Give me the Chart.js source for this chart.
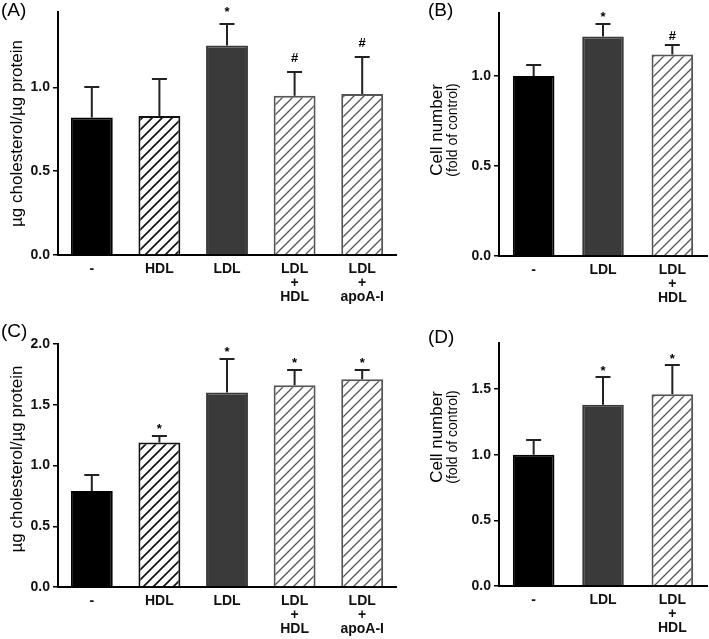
<!DOCTYPE html>
<html>
<head>
<meta charset="utf-8">
<script src="https://cdn.jsdelivr.net/npm/chart.js@4/dist/chart.umd.min.js"></script>
<style>
  body { margin: 0; background: #fff; }
  #wrap { position: relative; width: 709px; height: 639px; overflow: hidden; }
  canvas { position: absolute; }
</style>
</head>
<body>
<div id="wrap">
  <canvas id="cA" width="400" height="318" style="left:0;top:0"></canvas>
  <canvas id="cB" width="289" height="318" style="left:420px;top:0"></canvas>
  <canvas id="cC" width="400" height="319" style="left:0;top:320px"></canvas>
  <canvas id="cD" width="289" height="319" style="left:420px;top:320px"></canvas>
</div>
<script>
// categorias
const catsCholesterol = ['-', 'HDL', 'LDL', ['LDL', '+', 'HDL'], ['LDL', '+', 'apoA-I']];
const catsCells = ['-', 'LDL', ['LDL', '+', 'HDL']];

// (A) colesterol
const valsA = [0.82, 0.83, 1.25, 0.95, 0.96];
const errsA = [0.18, 0.22, 0.13, 0.14, 0.22];
const marksA = ['', '', '*', '#', '#'];
// (B) numero de celulas
const valsB = [1.00, 1.22, 1.12];
const errsB = [0.06, 0.07, 0.05];
const marksB = ['', '*', '#'];
// (C) colesterol
const valsC = [0.79, 1.19, 1.60, 1.66, 1.71];
const errsC = [0.13, 0.05, 0.28, 0.13, 0.08];
const marksC = ['', '*', '*', '*', '*'];
// (D) numero de celulas
const valsD = [1.00, 1.38, 1.46];
const errsD = [0.11, 0.21, 0.22];
const marksD = ['', '*', '*'];

const yTicksA = [0, 0.5, 1.0];
const yTicksC = [0, 0.5, 1.0, 1.5, 2.0];
const yTicksD = [0, 0.5, 1.0, 1.5];

const FONT = "'Liberation Sans', Arial, Helvetica, sans-serif";
Chart.defaults.font.family = FONT;
Chart.defaults.color = '#000';

function hatch(lineColor, lw) {
    const c = document.createElement('canvas');
    c.width = 10; c.height = 10;
    const g = c.getContext('2d');
    g.fillStyle = '#fff';
    g.fillRect(0, 0, 10, 10);
    g.strokeStyle = lineColor;
    g.lineWidth = lw;
    g.beginPath();
    g.moveTo(-1, 11); g.lineTo(11, -1);
    g.moveTo(-6, 6); g.lineTo(6, -6);
    g.moveTo(4, 16); g.lineTo(16, 4);
    g.stroke();
    return g.createPattern(c, 'repeat');
}

function estilo(cat) {
    const k = Array.isArray(cat) ? cat.join('') : cat;
    if (k === '-') return { bg: '#000', bd: '#000' };
    if (k === 'HDL') return { bg: hatch('#111', 1.7), bd: '#111' };
    if (k === 'LDL') return { bg: '#3a3a3a', bd: '#3a3a3a' };
    return { bg: hatch('#555', 1.3), bd: '#555' };
}

// barras de erro + marcas de significancia
const errorBars = {
    id: 'errorBars',
    afterDatasetsDraw(chart) {
        const { ctx } = chart;
        const y = chart.scales.y;
        const ds = chart.data.datasets[0];
        const meta = chart.getDatasetMeta(0);
        ctx.save();
        ctx.strokeStyle = '#222';
        ctx.lineWidth = 2;
        meta.data.forEach((bar, i) => {
            const top = Math.round(y.getPixelForValue(ds.data[i] + ds.errors[i]));
            ctx.beginPath();
            ctx.moveTo(bar.x, bar.y);
            ctx.lineTo(bar.x, top);
            ctx.moveTo(bar.x - 7.5, top);
            ctx.lineTo(bar.x + 7.5, top);
            ctx.stroke();
            const m = ds.marks[i];
            if (m) {
                ctx.font = 'bold 13px ' + FONT;
                ctx.fillStyle = '#000';
                ctx.textAlign = 'center';
                ctx.textBaseline = 'alphabetic';
                const tm = ctx.measureText(m);
                const cy = top - chart.options.plugins.errorBars.markGap;
                const base = cy + (tm.actualBoundingBoxAscent - tm.actualBoundingBoxDescent) / 2;
                ctx.fillText(m, bar.x, base);
            }
        });
        ctx.restore();
    }
};

// titulos do eixo y e letra do painel
const labelsPlugin = {
    id: 'panelText',
    afterDraw(chart, args, o) {
        const { ctx } = chart;
        ctx.save();
        ctx.fillStyle = '#000';
        ctx.textAlign = 'left';
        ctx.textBaseline = 'middle';
        ctx.font = '19px ' + FONT;
        ctx.fillText(o.letter, o.letterX, o.letterY);
        o.title.forEach(t => {
            ctx.save();
            ctx.translate(t.x, o.titleY);
            ctx.rotate(-Math.PI / 2);
            ctx.textAlign = 'center';
            ctx.textBaseline = 'middle';
            ctx.font = t.size + 'px ' + FONT;
            ctx.fillText(t.text, 0, 0);
            ctx.restore();
        });
        ctx.restore();
    }
};

function criarPainel(id, cats, vals, errs, marks, cfg) {
    const st = cats.map(estilo);
    return new Chart(document.getElementById(id), {
        type: 'bar',
        data: {
            labels: cats,
            datasets: [{
                data: vals,
                errors: errs,
                marks: marks,
                backgroundColor: st.map(s => s.bg),
                borderColor: st.map(s => s.bd),
                borderWidth: 2,
                categoryPercentage: 1,
                barPercentage: cfg.barPct
            }]
        },
        options: {
            responsive: false,
            animation: false,
            devicePixelRatio: 1,
            layout: { padding: { top: cfg.padTop, right: cfg.padRight, left: 0, bottom: 0 } },
            plugins: {
                legend: { display: false },
                tooltip: { enabled: false },
                errorBars: { markGap: cfg.markGap },
                panelText: cfg.text
            },
            scales: {
                x: {
                    grid: { display: false, drawTicks: false },
                    border: { display: true, color: '#000', width: 2 },
                    ticks: { font: { size: 14, weight: 'bold', lineHeight: 1.0 }, color: '#111', padding: 7, maxRotation: 0, autoSkip: false },
                    afterFit: s => { s.height = cfg.xH; }
                },
                y: {
                    min: 0,
                    max: cfg.yMax,
                    afterBuildTicks: s => { s.ticks = cfg.yTicks.map(v => ({ value: v })); },
                    grid: { display: true, drawOnChartArea: false, drawTicks: true, tickLength: 5, color: '#000', lineWidth: 1.5 },
                    border: { display: true, color: '#000', width: 2 },
                    ticks: { font: { size: 14, weight: 'bold' }, color: '#111', padding: 3, callback: v => Number(v).toFixed(1) },
                    afterFit: s => { s.width = cfg.yW; }
                }
            }
        },
        plugins: [errorBars, labelsPlugin]
    });
}

document.addEventListener('DOMContentLoaded', () => {
    criarPainel('cA', catsCholesterol, valsA, errsA, marksA, {
        barPct: 0.62, padTop: 12, padRight: 4, xH: 63, yW: 58, yMax: 1.45, yTicks: yTicksA, markGap: 15,
        text: { letter: '(A)', letterX: 1, letterY: 11, titleY: 133.5, title: [{ text: 'µg cholesterol/µg protein', size: 17, x: 17 }] }
    });
    criarPainel('cB', catsCells, valsB, errsB, marksB, {
        barPct: 0.6, padTop: 13, padRight: 2, xH: 62, yW: 79, yMax: 1.35, yTicks: yTicksA, markGap: 10,
        text: { letter: '(B)', letterX: 8, letterY: 11, titleY: 130, title: [
            { text: 'Cell number', size: 17, x: 17.5 },
            { text: '(fold of control)', size: 14, x: 33.5 }] }
    });
    criarPainel('cC', catsCholesterol, valsC, errsC, marksC, {
        barPct: 0.62, padTop: 24, padRight: 4, xH: 52, yW: 58, yMax: 2.0, yTicks: yTicksC, markGap: 10,
        text: { letter: '(C)', letterX: 1, letterY: 12, titleY: 139, title: [{ text: 'µg cholesterol/µg protein', size: 17, x: 17 }] }
    });
    criarPainel('cD', catsCells, valsD, errsD, marksD, {
        barPct: 0.6, padTop: 23, padRight: 2, xH: 53, yW: 79, yMax: 1.85, yTicks: yTicksD, markGap: 9,
        text: { letter: '(D)', letterX: 8, letterY: 18, titleY: 117, title: [
            { text: 'Cell number', size: 17, x: 17.5 },
            { text: '(fold of control)', size: 14, x: 33.5 }] }
    });
});
</script>
</body>
</html>
